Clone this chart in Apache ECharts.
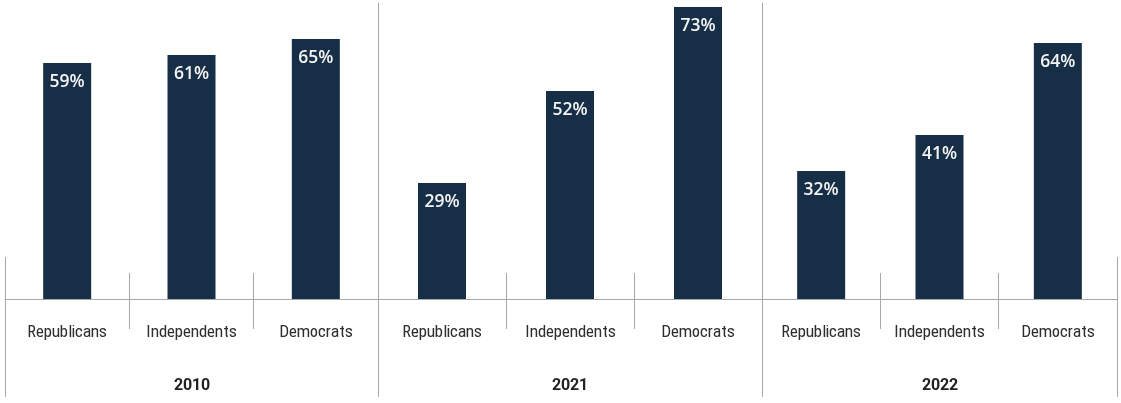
<!DOCTYPE html>
<html>
<head>
<meta charset="utf-8">
<script src="https://cdn.jsdelivr.net/npm/echarts@6/dist/echarts.min.js"></script>
<style>
@font-face {
  font-family: 'CondSans';
  src: local('Roboto Condensed'), local('RobotoCondensed-Regular'), local('Noto Sans Condensed'), local('NotoSans-Condensed'), local('Open Sans Condensed'), local('OpenSans-CondensedRegular'), local('Liberation Sans Narrow'), local('LiberationSansNarrow-Regular'), local('DejaVu Sans Condensed'), local('DejaVuSansCondensed');
  font-weight: 400;
}
@font-face {
  font-family: 'CondSans';
  src: local('Roboto Condensed Bold'), local('RobotoCondensed-Bold'), local('Noto Sans Condensed Bold'), local('NotoSans-CondensedBold'), local('Open Sans Condensed Bold'), local('OpenSans-CondensedBold'), local('Liberation Sans Narrow Bold'), local('LiberationSansNarrow-Bold'), local('DejaVu Sans Condensed Bold'), local('DejaVuSansCondensed-Bold');
  font-weight: 700;
}
html,body{margin:0;padding:0;background:#fff;}
#chart{width:1121px;height:403px;}
</style>
</head>
<body>
<div id="chart"></div>
<script>
const years = ['2010', '2021', '2022'];
const parties = ['Republicans', 'Independents', 'Democrats'];
const values2010 = [59, 61, 65];
const values2021 = [29, 52, 73];
const values2022 = [32, 41, 64];
const valuesByYear = [values2010, values2021, values2022];

const gridLefts = [5, 378, 762];
const gridWidths = [373, 384, 355];
const lineColor = '#a4a9ae';
const barColor = '#162e46';
const catFont = "CondSans, 'DejaVu Sans', sans-serif";

function render() {
  const grid = [], xAxis = [], yAxis = [], series = [];
  years.forEach((yr, i) => {
    grid.push({left: gridLefts[i], width: gridWidths[i], top: 3, bottom: 104});
    xAxis.push({
      type: 'category', gridIndex: i, position: 'bottom', data: parties, boundaryGap: true,
      axisLine: {show: true, lineStyle: {color: lineColor, width: 1}},
      axisTick: {show: true, interval: 0, alignWithLabel: false, length: 30, lineStyle: {color: lineColor}},
      axisLabel: {interval: 0, margin: 24, color: '#2e2e2e', fontSize: 17, fontFamily: catFont}
    });
    xAxis.push({
      type: 'category', gridIndex: i, position: 'bottom', data: parties, boundaryGap: true,
      axisLine: {show: false},
      axisTick: {show: true, inside: true, interval: 0, length: 26, lineStyle: {color: lineColor}},
      axisLabel: {show: false}
    });
    xAxis.push({
      type: 'category', gridIndex: i, position: 'bottom', data: [yr], boundaryGap: true,
      axisLine: {show: false},
      axisTick: {show: true, interval: 0, length: 98, lineStyle: {color: lineColor}},
      axisLabel: {interval: 0, margin: 79, color: '#222222', fontSize: 16, fontWeight: 'bold', fontFamily: catFont}
    });
    xAxis.push({
      type: 'category', gridIndex: i, position: 'bottom', data: [yr], boundaryGap: true,
      axisLine: {show: false},
      axisTick: {show: true, inside: true, interval: 0, length: 42, lineStyle: {color: lineColor}},
      axisLabel: {show: false}
    });
    yAxis.push({
      type: 'value', gridIndex: i, min: 0, max: 74,
      axisLine: {show: i > 0, lineStyle: {color: lineColor, width: 1}},
      axisTick: {show: false}, axisLabel: {show: false}, splitLine: {show: false}
    });
    series.push({
      type: 'bar', xAxisIndex: i * 4, yAxisIndex: i, data: valuesByYear[i],
      barWidth: 48, itemStyle: {color: barColor},
      label: {
        show: true, position: 'insideTop', distance: 10, formatter: '{c}%',
        color: '#f4f4f4', fontSize: 17.5, fontWeight: 600, fontFamily: "'Open Sans', sans-serif"
      }
    });
  });
  const chart = echarts.init(document.getElementById('chart'));
  chart.setOption({animation: false, grid, xAxis, yAxis, series});
}

Promise.all([
  document.fonts.load("17px CondSans"),
  document.fonts.load("bold 16px CondSans"),
  document.fonts.load("600 17px 'Open Sans'")
]).then(render, render);
</script>
</body>
</html>
